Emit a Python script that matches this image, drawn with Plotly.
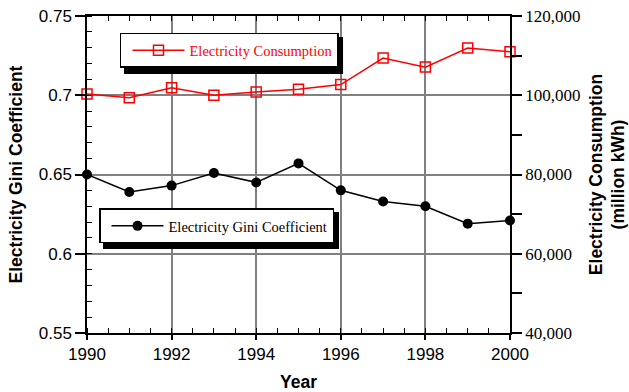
import plotly.graph_objects as go

# Annual series, 1990-2000
years = [1990, 1991, 1992, 1993, 1994, 1995, 1996, 1997, 1998, 1999, 2000]
gini = [0.650, 0.639, 0.643, 0.651, 0.645, 0.657, 0.640, 0.633, 0.630, 0.619, 0.621]
consumption = [100300, 99400, 101900, 100000, 100800, 101500, 102700, 109400, 107100, 111900, 111000]

# Axis ticks
year_ticks = [1990, 1992, 1994, 1996, 1998, 2000]
gini_ticks = [0.55, 0.6, 0.65, 0.7, 0.75]
gini_labels = ["0.55", "0.6", "0.65", "0.7", "0.75"]
cons_ticks = [40000, 50000, 60000, 70000, 80000, 90000, 100000, 110000, 120000]
cons_labels = ["40,000", "", "60,000", "", "80,000", "", "100,000", "", "120,000"]
half_years = [1990 + 0.5 * i for i in range(21)]

SANS = "Liberation Sans, Arial, sans-serif"
SERIF = "Liberation Serif, Times New Roman, serif"
GRID = "#808080"

fig = go.Figure()

fig.add_trace(go.Scatter(
    x=years, y=gini, name="Electricity Gini Coefficient",
    mode="lines+markers", xaxis="x", yaxis="y",
    line=dict(color="black", width=1.5),
    marker=dict(symbol="circle", size=10, color="black"),
    cliponaxis=False, legend="legend2",
))

fig.add_trace(go.Scatter(
    x=years, y=consumption, name="Electricity Consumption",
    mode="lines+markers", xaxis="x2", yaxis="y2",
    line=dict(color="#ff0000", width=1.5),
    marker=dict(symbol="square-open", size=10, color="#ff0000", line=dict(width=1.5)),
    cliponaxis=False, legend="legend",
))

fig.update_layout(
    width=629, height=392,
    margin=dict(l=87, r=119, t=16, b=59),
    paper_bgcolor="white", plot_bgcolor="white",
    showlegend=True,
    xaxis=dict(
        range=[1990, 2000], tickvals=year_ticks, automargin=False,
        ticks="outside", ticklen=5, tickwidth=1.5, tickcolor="black",
        showline=True, linecolor="black", linewidth=1.5,
        showgrid=True, gridcolor=GRID, gridwidth=1.5, zeroline=False,
        minor=dict(tickvals=half_years, ticks="inside", ticklen=5, tickwidth=1, tickcolor="black", showgrid=False),
        tickfont=dict(family=SANS, size=17, color="black"),
        title=dict(text="<b>Year</b>", font=dict(family=SANS, size=17.5, color="black"), standoff=15),
    ),
    xaxis2=dict(
        range=[1990, 2000], overlaying="x", side="top", anchor="y", automargin=False,
        tickvals=half_years, ticks="inside", ticklen=5, tickwidth=1, tickcolor="black",
        showticklabels=False, showline=True, linecolor="black", linewidth=1.5,
        showgrid=False, zeroline=False,
    ),
    yaxis=dict(
        range=[0.55, 0.75], tickvals=gini_ticks, ticktext=gini_labels, automargin=False,
        ticks="outside", ticklen=10, tickwidth=1.5, tickcolor="black",
        showline=True, linecolor="black", linewidth=1.5,
        showgrid=True, gridcolor=GRID, gridwidth=1.5, zeroline=False,
        minor=dict(dtick=0.01, tick0=0.55, ticks="inside", ticklen=5, tickwidth=1, tickcolor="black", showgrid=False),
        tickfont=dict(family=SANS, size=17, color="black"),
        title=dict(text="<b>Electricity Gini Coefficient</b>", font=dict(family=SANS, size=17.5, color="black"), standoff=12),
    ),
    yaxis2=dict(
        range=[40000, 120000], overlaying="y", side="right", anchor="x", automargin=False,
        tickvals=cons_ticks, ticktext=cons_labels,
        ticks="outside", ticklen=10, tickwidth=1.5, tickcolor="black",
        showline=True, linecolor="black", linewidth=1.5,
        showgrid=False, zeroline=False,
        tickfont=dict(family=SERIF, size=17, color="black"),
        title=dict(text="<b>Electricity Consumption<br>(million kWh)</b>", font=dict(family=SANS, size=17.5, color="black"), standoff=10),
    ),
    yaxis3=dict(
        range=[40000, 120000], overlaying="y", side="right", anchor="x", automargin=False,
        tickvals=cons_ticks, ticks="inside", ticklen=10, tickwidth=1.5, tickcolor="black",
        showticklabels=False, showline=False, showgrid=False, zeroline=False,
    ),
    legend=dict(
        x=0.078, y=0.947, xanchor="left", yanchor="top",
        bgcolor="white", bordercolor="black", borderwidth=1.5,
        itemwidth=52, indentation=6,
        font=dict(family=SERIF, size=14.5, color="#ff0000"),
    ),
    legend2=dict(
        x=0.0284, y=0.393, xanchor="left", yanchor="top",
        bgcolor="white", bordercolor="black", borderwidth=1.5,
        itemwidth=52, indentation=6,
        font=dict(family=SERIF, size=14.5, color="black"),
    ),
    # drop shadows behind the two legend boxes
    shapes=[
        dict(type="rect", xref="paper", yref="paper", x0=0.0875, x1=0.6053, y0=0.8170, y1=0.9338,
             fillcolor="black", line=dict(width=0), layer="above"),
        dict(type="rect", xref="paper", yref="paper", x0=0.0378, x1=0.5957, y0=0.2650, y1=0.3817,
             fillcolor="black", line=dict(width=0), layer="above"),
    ],
)

fig.write_html("out.html")
